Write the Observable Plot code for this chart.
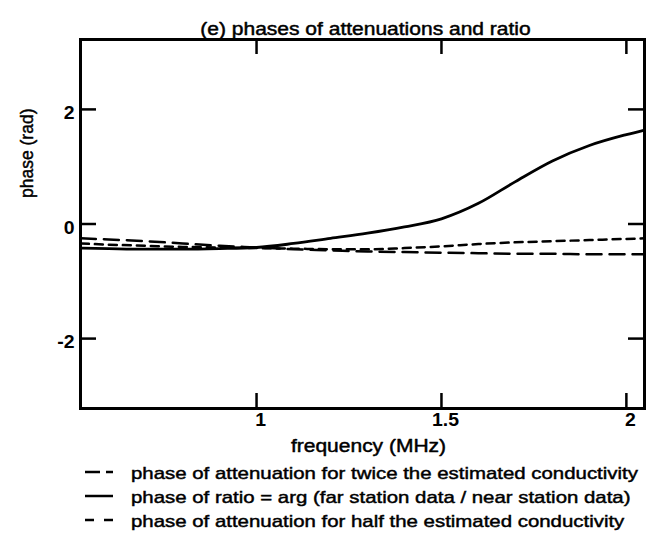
<!DOCTYPE html>
<html><head><meta charset="utf-8">
<script src="https://cdn.jsdelivr.net/npm/d3@7"></script>
<script src="https://cdn.jsdelivr.net/npm/@observablehq/plot@0.6"></script>
<style>
body{margin:0;background:#fff;}
#chart{width:649px;height:538px;position:relative;background:#fff;overflow:hidden;}
svg{display:block;}
</style></head><body><div id="chart"></div>
<script>
// frequency (MHz)
const freq       = [0.525, 0.6, 0.7, 0.8, 0.9, 1.0, 1.1, 1.2, 1.3, 1.4, 1.5, 1.6, 1.7, 1.8, 1.9, 2.0, 2.049];
// phase (rad) of attenuation for twice the estimated conductivity
const phaseTwice = [-0.25, -0.27, -0.30, -0.34, -0.38, -0.41, -0.44, -0.46, -0.48, -0.49, -0.50, -0.51, -0.52, -0.52, -0.53, -0.53, -0.53];
// phase of ratio = arg(far / near)
const phaseRatio = [-0.42, -0.43, -0.44, -0.44, -0.43, -0.41, -0.34, -0.25, -0.16, -0.05, 0.09, 0.36, 0.74, 1.10, 1.37, 1.56, 1.64];
// phase of attenuation for half the estimated conductivity
const phaseHalf  = [-0.34, -0.36, -0.38, -0.40, -0.41, -0.42, -0.43, -0.44, -0.44, -0.42, -0.39, -0.35, -0.32, -0.30, -0.28, -0.26, -0.25];

const xTicks = [1, 1.5, 2];
const yTicks = [-2, 0, 2];
const titleText = "(e) phases of attenuations and ratio";
const xLabel = "frequency (MHz)";
const yLabel = "phase (rad)";
const legendLabels = [
  "phase of attenuation for twice the estimated conductivity",
  "phase of ratio = arg (far station data / near station data)",
  "phase of attenuation for half the estimated conductivity"
];
const legendDash = ["15,6", null, "9,10"];

const FONT = "Liberation Sans, Arial, Helvetica, sans-serif";
const SW = 2.5;

const chart = Plot.plot({
  width: 649,
  height: 460,
  marginTop: 39,
  marginRight: 5,
  marginBottom: 52,
  marginLeft: 80,
  style: {fontFamily: FONT, fontSize: "17px", background: "white", color: "black"},
  x: {domain: [0.524, 2.049]},
  y: {domain: [-3.22, 3.22]},
  marks: [
    Plot.line(freq, {x: freq, y: phaseTwice, stroke: "black", strokeWidth: SW, strokeDasharray: "15,8", curve: "monotone-x"}),
    Plot.line(freq, {x: freq, y: phaseHalf, stroke: "black", strokeWidth: SW, strokeDasharray: "8,6", curve: "monotone-x"}),
    Plot.line(freq, {x: freq, y: phaseRatio, stroke: "black", strokeWidth: SW + 0.3, curve: "monotone-x"}),
    Plot.ruleX(xTicks, {x: d => d, insetTop: 354, stroke: "black", strokeWidth: SW}),
    Plot.ruleX(xTicks, {x: d => d, insetBottom: 354, stroke: "black", strokeWidth: SW}),
    Plot.ruleY(yTicks, {y: d => d, insetRight: 548, stroke: "black", strokeWidth: SW}),
    Plot.ruleY(yTicks, {y: d => d, insetLeft: 548, stroke: "black", strokeWidth: SW}),
    Plot.frame({stroke: "black", strokeWidth: SW + 0.5}),
    Plot.axisX(xTicks, {tickSize: 0, tickPadding: 5, dx: 4, label: null, fontSize: 18, fontWeight: "bold", tickFormat: d => String(d)}),
    Plot.axisY(yTicks, {tickSize: 0, tickPadding: 6, dy: 4, label: null, fontSize: 18, fontWeight: "bold", tickFormat: d => String(d)}),
    Plot.text([titleText], {text: d => d, frameAnchor: "top", dy: -17, dx: 3, fontSize: 17.5, fill: "black", stroke: "black", strokeWidth: 0.45}),
    Plot.text([xLabel], {text: d => d, frameAnchor: "bottom", dy: 43, dx: 6, fontSize: 17.5, fill: "black", stroke: "black", strokeWidth: 0.45}),
    Plot.text([yLabel], {text: d => d, frameAnchor: "left", rotate: -90, dx: -53, dy: -26, fontSize: 17.5, fill: "black", stroke: "black", strokeWidth: 0.45})
  ]
});

const root = document.getElementById("chart");
root.appendChild(chart);

// legend below the plot
const leg = d3.select(root).append("svg")
  .attr("width", 649).attr("height", 78)
  .style("font-family", FONT).style("font-size", "17px");
legendLabels.forEach((lab, i) => {
  const cy = 14 + i * 24;
  const ln = leg.append("line")
    .attr("x1", 85).attr("x2", 113).attr("y1", cy - 2).attr("y2", cy - 2)
    .attr("stroke", "black").attr("stroke-width", SW);
  if (legendDash[i]) ln.attr("stroke-dasharray", legendDash[i]);
  leg.append("text").attr("x", 131).attr("y", cy + 5).attr("fill", "black")
    .attr("stroke", "black").attr("stroke-width", 0.45).text(lab);
});

// horizontal stretch of the scanned type
root.querySelectorAll("text").forEach(t => {
  const tr = t.getAttribute("transform") || "";
  if (tr.includes("rotate")) return;
  const bold = (t.closest("[font-weight]") || {getAttribute(){return ""}}).getAttribute("font-weight") === "bold";
  const L = t.getComputedTextLength();
  if (L > 0) {
    t.setAttribute("textLength", (L * (bold ? 1.08 : 1.2)).toFixed(1));
    t.setAttribute("lengthAdjust", "spacingAndGlyphs");
  }
});
</script>
</body></html>
